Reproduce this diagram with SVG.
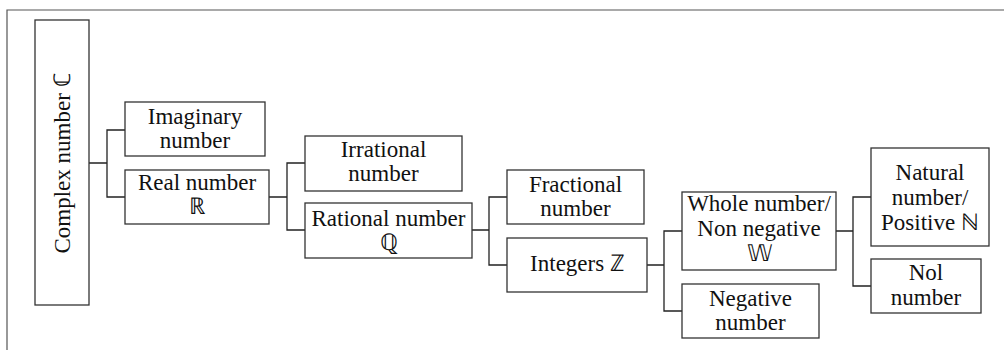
<svg xmlns="http://www.w3.org/2000/svg" width="1004" height="350" viewBox="0 0 1004 350">
<style>
.box{fill:#fff;stroke:#333;stroke-width:1.3}
.lbl{font-family:"Liberation Serif","Times New Roman",serif;font-size:23px;fill:#111;text-anchor:middle}
.con{fill:none;stroke:#222;stroke-width:1.3}
.frame{fill:none;stroke:#555;stroke-width:1.2}
</style>
<rect width="1004" height="350" fill="#fff"/>
<path class="frame" d="M7,350 V10 H1004"/>
<g id="connectors">
<path class="con" d="M89,163 H107 M125,130 H107 V197 H125"/>
<path class="con" d="M269,197 H287 M305,163 H287 V230 H305"/>
<path class="con" d="M472,230 H489 M507,197 H489 V265 H507"/>
<path class="con" d="M647,265 H664 M682,231 H664 V311 H682"/>
<path class="con" d="M836,231 H853 M871,197 H853 V286 H871"/>
</g>
<g id="complex">
<rect class="box" x="35" y="20" width="54" height="285"/>
<text class="lbl" transform="translate(70,163) rotate(-90)" x="0" y="0">Complex number ℂ</text>
</g>
<g id="imaginary">
<rect class="box" x="125" y="102" width="140" height="54"/>
<text class="lbl" x="195" y="124">Imaginary</text>
<text class="lbl" x="195" y="148">number</text>
</g>
<g id="real">
<rect class="box" x="125" y="170" width="144" height="54"/>
<text class="lbl" x="197" y="190">Real number</text>
<text class="lbl" x="197" y="214">ℝ</text>
</g>
<g id="irrational">
<rect class="box" x="305" y="136" width="157" height="55"/>
<text class="lbl" x="383.5" y="157">Irrational</text>
<text class="lbl" x="383.5" y="181">number</text>
</g>
<g id="rational">
<rect class="box" x="305" y="203" width="167" height="55"/>
<text class="lbl" x="388.5" y="226">Rational number</text>
<text class="lbl" x="388.5" y="250">ℚ</text>
</g>
<g id="fractional">
<rect class="box" x="507" y="170" width="137" height="54"/>
<text class="lbl" x="575.5" y="192">Fractional</text>
<text class="lbl" x="575.5" y="216">number</text>
</g>
<g id="integers">
<rect class="box" x="507" y="238" width="140" height="54"/>
<text class="lbl" x="577" y="271">Integers ℤ</text>
</g>
<g id="whole">
<rect class="box" x="682" y="192" width="154" height="78"/>
<text class="lbl" x="759" y="211">Whole number/</text>
<text class="lbl" x="759" y="236">Non negative</text>
<text class="lbl" x="759" y="261">𝕎</text>
</g>
<g id="negative">
<rect class="box" x="682" y="284" width="137" height="54"/>
<text class="lbl" x="750.5" y="306">Negative</text>
<text class="lbl" x="750.5" y="330">number</text>
</g>
<g id="natural">
<rect class="box" x="871" y="148" width="118" height="98"/>
<text class="lbl" x="930" y="180">Natural</text>
<text class="lbl" x="930" y="205">number/</text>
<text class="lbl" x="930" y="230">Positive ℕ</text>
</g>
<g id="nol">
<rect class="box" x="871" y="259" width="110" height="54"/>
<text class="lbl" x="926" y="280">Nol</text>
<text class="lbl" x="926" y="305">number</text>
</g>
</svg>
